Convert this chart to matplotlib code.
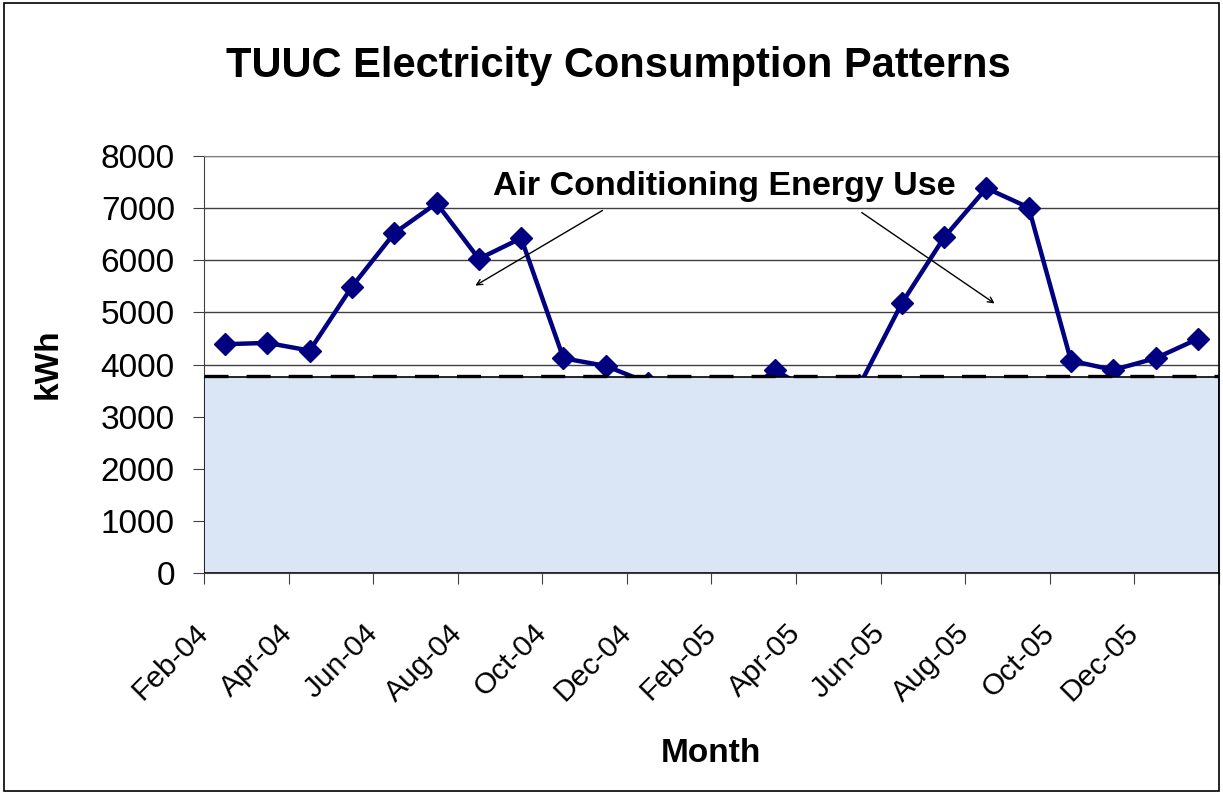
import numpy as np
import matplotlib
matplotlib.use("Agg")
import matplotlib.pyplot as plt
from matplotlib.patches import Rectangle
from matplotlib.transforms import ScaledTranslation

plt.rcParams['font.family'] = ['Liberation Sans', 'DejaVu Sans']
plt.rcParams['lines.scale_dashes'] = False

# monthly consumption, Feb-04 .. Jan-06
months = ['Feb-04', 'Mar-04', 'Apr-04', 'May-04', 'Jun-04', 'Jul-04',
          'Aug-04', 'Sep-04', 'Oct-04', 'Nov-04', 'Dec-04', 'Jan-05',
          'Feb-05', 'Mar-05', 'Apr-05', 'May-05', 'Jun-05', 'Jul-05',
          'Aug-05', 'Sep-05', 'Oct-05', 'Nov-05', 'Dec-05', 'Jan-06']
kwh = [4390, 4415, 4267, 5495, 6520, 7095,
       6027, 6424, 4120, 3973, 3650, 3500,
       3300, 3890, 3435, 3600, 5176, 6437,
       7383, 7012, 4075, 3896, 4120, 4491]
base_load = 3760      # shaded non-AC portion
base_line = 3785      # dashed line on top of it
y_ticks = [0, 1000, 2000, 3000, 4000, 5000, 6000, 7000, 8000]

fig = plt.figure(figsize=(12.23, 7.94), dpi=100)
ax = fig.add_axes([0.1668, 0.2783, 0.8299, 0.5252])

x = np.arange(len(months))
ax.plot(x, kwh, color='#000080', lw=3.2, marker='D', ms=11, zorder=3)

ax.add_patch(Rectangle((-0.5, 0), len(months), base_load, facecolor='#dae6f6',
                       edgecolor='black', lw=1.2, zorder=4))
ax.plot([-0.5, len(months) - 0.5], [base_line, base_line], color='black',
        lw=2.4, dashes=(17.3, 13), zorder=5)

ax.set_xlim(-0.5, len(months) - 0.5)
ax.set_ylim(0, 8000)
ax.set_yticks(y_ticks)
ax.set_yticklabels([str(v) for v in y_ticks], fontsize=24)
ax.yaxis.grid(True, color='#404040', lw=1)
ax.set_axisbelow(True)

# tick marks between categories, every other month labelled
bounds = np.arange(-0.5, len(months), 2)
ax.set_xticks(bounds)
ax.set_xticklabels(months[::2] + [''], rotation=45, ha='right', va='center',
                   rotation_mode='anchor', fontsize=21.5)
shift = ScaledTranslation(0.10, 0, fig.dpi_scale_trans)
for lab in ax.get_xticklabels():
    lab.set_transform(lab.get_transform() + shift)
ax.tick_params(axis='x', length=8, pad=32, color='#404040')
ax.tick_params(axis='y', length=8, pad=13, color='#404040')

for s in ['top', 'right']:
    ax.spines[s].set_color('#808080')
for s in ['left', 'bottom']:
    ax.spines[s].set_color('#404040')

fig.text(0.039, 0.542, 'kWh', fontsize=24, fontweight='bold', rotation=90,
         ha='center', va='center')
fig.text(0.5814, 0.0403, 'Month', fontsize=24, fontweight='bold',
         ha='center', va='baseline')
fig.text(0.5053, 0.903, 'TUUC Electricity Consumption Patterns', fontsize=30,
         fontweight='bold', ha='center', va='baseline')

ax.text(11.81, 7252, 'Air Conditioning Energy Use', fontsize=24.5,
        fontweight='bold', ha='center', va='baseline', zorder=6)
ax.annotate('', xy=(5.86, 5487), xytext=(8.98, 6983),
            arrowprops=dict(arrowstyle='->', color='black', lw=1))
ax.annotate('', xy=(18.25, 5141), xytext=(15.0, 6945),
            arrowprops=dict(arrowstyle='->', color='black', lw=1))

fig.add_artist(Rectangle((0.003, 0.004), 0.994, 0.992, transform=fig.transFigure,
                         fill=False, edgecolor='black', lw=1.2))

fig.savefig('out.png', dpi=100)
